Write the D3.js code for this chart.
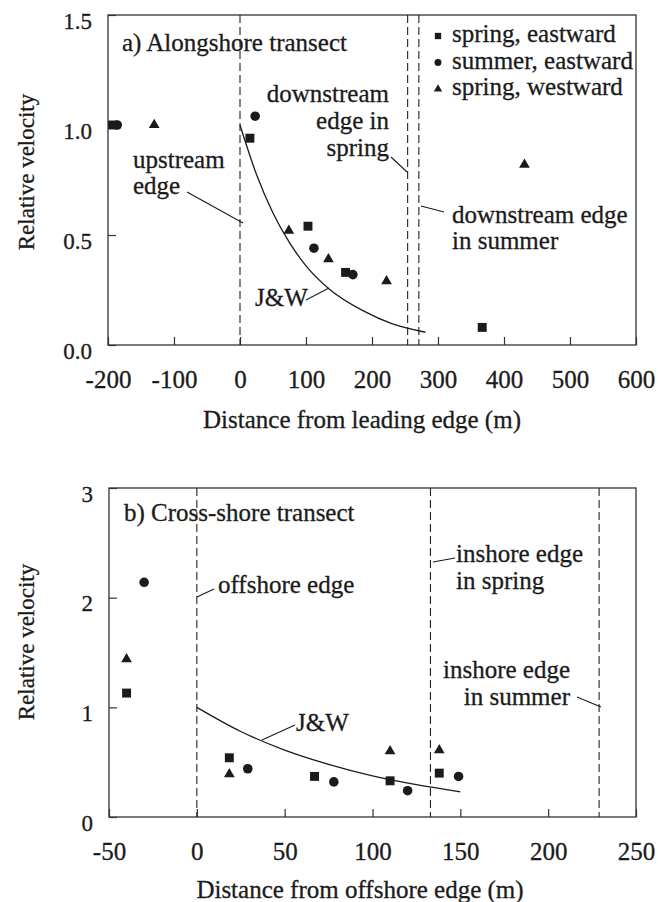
<!DOCTYPE html>
<html>
<head>
<meta charset="utf-8">
<script src="https://cdn.jsdelivr.net/npm/d3@7"></script>
<style>
  html, body { margin: 0; padding: 0; background: #fff; }
  svg { display: block; }
  text { font-family: "Liberation Serif", "Times New Roman", serif; fill: #1b1b1b; stroke: #1b1b1b; stroke-width: 0.3px; }
</style>
</head>
<body>
<svg id="chart" width="658" height="902"></svg>
<script>
// ---- Alongshore transect (panel a) ----
const alongSpringEastX = [-193, 15, 103, 160, 367];
const alongSpringEastY = [1.0, 0.94, 0.54, 0.33, 0.08];
const alongSummerEastX = [-186, 23, 112, 171];
const alongSummerEastY = [1.0, 1.04, 0.44, 0.32];
const alongSpringWestX = [-130, 74, 134, 222, 431];
const alongSpringWestY = [1.0, 0.52, 0.39, 0.29, 0.82];
const alongModelX = [0, 25, 50, 75, 100, 135, 187, 230, 281];
const alongModelY = [1.0, 0.775, 0.60, 0.465, 0.36, 0.255, 0.155, 0.097, 0.058];
const alongEdges = [0, 254, 271];
const alongXTicks = [-200, -100, 0, 100, 200, 300, 400, 500, 600];
const alongYTicks = [0, 0.5, 1.0, 1.5];

// ---- Cross-shore transect (panel b) ----
const crossSpringEastX = [-40, 18.5, 67, 110, 138];
const crossSpringEastY = [1.13, 0.54, 0.37, 0.33, 0.40];
const crossSummerEastX = [-30, 29, 78, 120, 149];
const crossSummerEastY = [2.14, 0.44, 0.32, 0.24, 0.37];
const crossSpringWestX = [-40, 18.5, 110, 138];
const crossSpringWestY = [1.44, 0.39, 0.60, 0.61];
const crossModelX = [0, 25, 50, 75, 100, 125, 150];
const crossModelY = [1.0, 0.78, 0.61, 0.48, 0.375, 0.295, 0.23];
const crossEdges = [0, 133, 229];
const crossXTicks = [-50, 0, 50, 100, 150, 200, 250];
const crossYTicks = [0, 1, 2, 3];

const seriesNames = ["spring, eastward", "summer, eastward", "spring, westward"];

const ink = "#1b1b1b";
const svg = d3.select("#chart");
const FONT = 25;       // annotations, legend, x tick labels, x titles
const YTICK_FONT = 23; // y tick labels
const YTITLE_FONT = 23;

const shapes = [d3.symbolSquare, d3.symbolCircle, d3.symbolTriangle];
const shapeSizes = [80, 72, 50];
const legendSizes = [40, 38, 30];

const zip = (xs, ys) => xs.map((x, i) => ({ x, y: ys[i] }));

function drawPanel(cfg) {
  const g = svg.append("g");
  const x = d3.scaleLinear().domain(cfg.xDomain).range([cfg.left, cfg.right]);
  const y = d3.scaleLinear().domain(cfg.yDomain).range([cfg.bottom, cfg.top]);

  // frame
  g.append("rect")
    .attr("x", cfg.left).attr("y", cfg.top)
    .attr("width", cfg.right - cfg.left).attr("height", cfg.bottom - cfg.top)
    .attr("fill", "none").attr("stroke", "#333").attr("stroke-width", 1.3);

  // x axis with inward ticks
  const xa = g.append("g").attr("transform", `translate(0,${cfg.bottom})`)
    .call(d3.axisBottom(x).tickValues(cfg.xTicks).tickFormat(d3.format("d"))
      .tickSizeInner(-8).tickSizeOuter(0).tickPadding(25));
  xa.select(".domain").remove();
  xa.selectAll("line").attr("stroke", "#333").attr("stroke-width", 1.2);
  xa.selectAll("text").attr("font-size", FONT).attr("fill", ink)
    .attr("font-family", "Liberation Serif, serif").text(d => d < 0 ? "-" + Math.abs(d) : d);

  // y axis with inward ticks
  const ya = g.append("g").attr("transform", `translate(${cfg.left},0)`)
    .call(d3.axisLeft(y).tickValues(cfg.yTicks).tickFormat(d3.format(cfg.yFormat))
      .tickSizeInner(-8).tickSizeOuter(0).tickPadding(16));
  ya.select(".domain").remove();
  ya.selectAll("line").attr("stroke", "#333").attr("stroke-width", 1.2);
  ya.selectAll("text").attr("font-size", YTICK_FONT).attr("fill", ink)
    .attr("font-family", "Liberation Serif, serif").attr("dy", 13);

  // dashed edge lines
  g.selectAll(".edge").data(cfg.edges).join("line")
    .attr("x1", d => x(d)).attr("x2", d => x(d))
    .attr("y1", cfg.top).attr("y2", cfg.bottom)
    .attr("stroke", "#222").attr("stroke-width", 1.1)
    .attr("stroke-dasharray", "8,4");

  // model curve
  const line = d3.line().x(d => x(d.x)).y(d => y(d.y)).curve(d3.curveMonotoneX);
  g.append("path").datum(zip(cfg.modelX, cfg.modelY))
    .attr("d", line).attr("fill", "none").attr("stroke", ink).attr("stroke-width", 1.3);

  // observations
  cfg.series.forEach((s, i) => {
    g.selectAll(null).data(zip(s.x, s.y)).join("path")
      .attr("transform", d => `translate(${x(d.x)},${y(d.y)})`)
      .attr("d", d3.symbol().type(shapes[i]).size(shapeSizes[i]))
      .attr("fill", ink);
  });

  // annotation text blocks
  cfg.notes.forEach(n => {
    const t = g.append("text").attr("font-size", FONT).attr("fill", ink)
      .attr("text-anchor", n.anchor || "start");
    n.lines.forEach((ln, j) => {
      t.append("tspan").attr("x", n.x).attr("y", n.y + j * n.lh).text(ln);
    });
  });

  // leader lines
  cfg.leaders.forEach(l => {
    g.append("line").attr("x1", l[0]).attr("y1", l[1]).attr("x2", l[2]).attr("y2", l[3])
      .attr("stroke", ink).attr("stroke-width", 1.1);
  });

  // axis titles
  g.append("text").attr("font-size", FONT).attr("text-anchor", "middle")
    .attr("x", cfg.xTitlePos[0]).attr("y", cfg.xTitlePos[1]).text(cfg.xTitle);
  g.append("text").attr("font-size", YTITLE_FONT).attr("text-anchor", "middle")
    .attr("dominant-baseline", "central")
    .attr("transform", `translate(${cfg.yTitlePos[0]},${cfg.yTitlePos[1]}) rotate(-90)`)
    .text("Relative velocity");

  return { x, y, g };
}

drawPanel({
  left: 108, right: 636, top: 15, bottom: 345,
  xDomain: [-200, 600], yDomain: [0, 1.5],
  xTicks: alongXTicks, yTicks: alongYTicks, yFormat: ".1f",
  edges: alongEdges,
  modelX: alongModelX, modelY: alongModelY,
  series: [
    { x: alongSpringEastX, y: alongSpringEastY },
    { x: alongSummerEastX, y: alongSummerEastY },
    { x: alongSpringWestX, y: alongSpringWestY }
  ],
  notes: [
    { x: 122, y: 51, lh: 26, lines: ["a) Alongshore transect"] },
    { x: 389, y: 102, lh: 27, anchor: "end", lines: ["downstream", "edge in", "spring"] },
    { x: 133, y: 168, lh: 26, lines: ["upstream", "edge"] },
    { x: 255, y: 306, lh: 26, lines: ["J&W"] },
    { x: 452, y: 223, lh: 26, lines: ["downstream edge", "in summer"] }
  ],
  leaders: [
    [391, 157, 407, 172],
    [187, 192, 243, 223],
    [306, 300, 329, 288],
    [421, 206, 444, 212]
  ],
  xTitle: "Distance from leading edge (m)", xTitlePos: [362, 428],
  yTitlePos: [26, 172]
});

// legend
const legendRows = [36, 62.5, 89];
seriesNames.forEach((name, i) => {
  svg.append("path")
    .attr("transform", `translate(438,${legendRows[i]})`)
    .attr("d", d3.symbol().type(shapes[i]).size(legendSizes[i]))
    .attr("fill", ink);
  svg.append("text").attr("font-size", FONT).attr("fill", ink)
    .attr("x", 452).attr("y", legendRows[i] + 6).text(name);
});

drawPanel({
  left: 109, right: 636, top: 488, bottom: 817,
  xDomain: [-50, 250], yDomain: [0, 3],
  xTicks: crossXTicks, yTicks: crossYTicks, yFormat: "d",
  edges: crossEdges,
  modelX: crossModelX, modelY: crossModelY,
  series: [
    { x: crossSpringEastX, y: crossSpringEastY },
    { x: crossSummerEastX, y: crossSummerEastY },
    { x: crossSpringWestX, y: crossSpringWestY }
  ],
  notes: [
    { x: 124, y: 521, lh: 26, lines: ["b) Cross-shore transect"] },
    { x: 218, y: 593, lh: 26, lines: ["offshore edge"] },
    { x: 296, y: 731, lh: 26, lines: ["J&W"] },
    { x: 456, y: 562, lh: 26.5, lines: ["inshore edge", "in spring"] },
    { x: 570, y: 678, lh: 26.5, anchor: "end", lines: ["inshore edge", "in summer"] }
  ],
  leaders: [
    [197, 597, 214, 589],
    [262, 740, 295, 725],
    [433, 562, 455, 558],
    [577, 697, 601, 707]
  ],
  xTitle: "Distance from offshore edge (m)", xTitlePos: [360, 898],
  yTitlePos: [26, 642]
});
</script>
</body>
</html>
